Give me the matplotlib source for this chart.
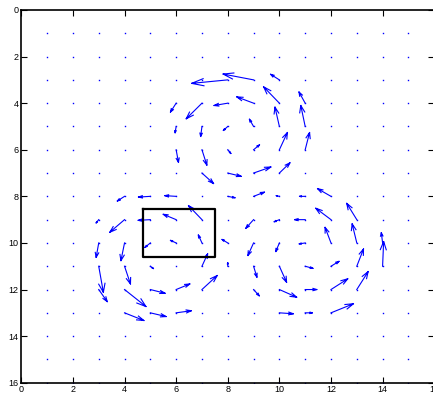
import numpy as np
import matplotlib
matplotlib.use("Agg")
import matplotlib.pyplot as plt

# grid of sample points (quiver base points)
grid_x = list(range(1, 17))
grid_y = list(range(1, 17))

# non-zero vectors: base point and displacement
arrow_x = [8, 9, 10,
           6, 7, 8, 9, 10, 11,
           6, 7, 8, 9, 10, 11,
           6, 7, 8, 9, 10, 11,
           7, 8, 9, 10,
           4, 5, 6, 8, 9, 10, 11, 12,
           3, 4, 5, 6, 7, 9, 10, 11, 12, 13,
           3, 4, 5, 6, 7, 8, 9, 10, 11, 12, 13, 14,
           3, 4, 5, 7, 8, 9, 10, 11, 12, 13, 14,
           3, 4, 5, 6, 7, 9, 10, 11, 12, 13,
           4, 5, 6, 10, 11, 12]
arrow_y = [3, 3, 3,
           4, 4, 4, 4, 4, 4,
           5, 5, 5, 5, 5, 5,
           6, 6, 6, 6, 6, 6,
           7, 7, 7, 7,
           8, 8, 8, 8, 8, 8, 8, 8,
           9, 9, 9, 9, 9, 9, 9, 9, 9, 9,
           10, 10, 10, 10, 10, 10, 10, 10, 10, 10, 10, 10,
           11, 11, 11, 11, 11, 11, 11, 11, 11, 11, 11,
           12, 12, 12, 12, 12, 12, 12, 12, 12, 12,
           13, 13, 13, 13, 13, 13]
arrow_u = [-1.40, -1.18, -0.34,
           -0.22, -0.61, -0.53, -0.65, -0.61, -0.24,
           -0.04, -0.05, -0.17, -0.16, -0.17, -0.17,
           0.09, 0.19, 0.12, 0.23, 0.31, 0.17,
           0.45, 0.52, 0.67, 0.41,
           -0.28, -0.46, -0.44, 0.28, 0.42, -0.12, -0.22, -0.52,
           -0.10, -0.57, -0.47, -0.50, -0.52, -0.30, -0.20, -0.41, -0.59, -0.39,
           -0.10, -0.14, -0.21, -0.22, -0.14, -0.22, -0.22, -0.14, -0.23, -0.23, -0.18, -0.05,
           0.18, 0.23, 0.12, 0.22, 0.00, 0.13, 0.28, 0.30, 0.31, 0.26, 0.04,
           0.33, 0.83, 0.57, 0.53, 0.59, 0.22, 0.67, 0.45, 0.65, 0.44,
           0.75, 0.61, 0.59, 0.54, 0.28, 0.87]
arrow_v = [0.15, -0.25, -0.24,
           0.38, 0.67, 0.10, -0.27, -0.70, -0.48,
           0.27, 0.43, 0.17, -0.31, -0.83, -0.90,
           0.54, 0.66, 0.16, -0.21, -0.74, -0.74,
           0.45, 0.14, -0.26, -0.44,
           0.20, 0.03, -0.03, 0.06, -0.18, -0.03, 0.00, -0.33,
           0.14, 0.54, 0.03, -0.23, -0.60, 0.37, 0.09, 0.00, -0.49, -0.70,
           0.62, 0.76, 0.19, -0.11, -0.34, -0.15, 0.54, 0.37, 0.04, -0.67, -0.82, -0.44,
           1.12, 0.76, 0.10, -0.53, -0.15, 0.47, 0.69, 0.09, -0.21, -0.74, -1.06,
           0.52, 0.73, 0.16, -0.24, -0.60, 0.27, 0.33, 0.00, -0.46, -0.77,
           0.33, 0.16, -0.09, 0.04, 0.00, -0.39]

# highlighted region
box_x = [4.7, 7.5]
box_y = [8.55, 10.6]


def arrow_lines(x, y, u, v, alpha=0.33, beta=0.33):
    """MATLAB-style open arrows: shaft plus two barbs, NaN separated."""
    x, y, u, v = map(np.asarray, (x, y, u, v))
    xe, ye = x + u, y + v
    nan = np.full_like(x, np.nan, dtype=float)
    shaft_x = np.column_stack([x, xe, nan]).ravel()
    shaft_y = np.column_stack([y, ye, nan]).ravel()
    hx = np.column_stack([xe - alpha * (u + beta * v), xe,
                          xe - alpha * (u - beta * v), nan]).ravel()
    hy = np.column_stack([ye - alpha * (v - beta * u), ye,
                          ye - alpha * (v + beta * u), nan]).ravel()
    return np.concatenate([shaft_x, hx]), np.concatenate([shaft_y, hy])


fig = plt.figure(figsize=(4.33, 3.98), dpi=100)
ax = fig.add_axes([0.0492, 0.0384, 0.9536, 0.9365])

gx, gy = np.meshgrid(grid_x, grid_y)
ax.plot(gx.ravel(), gy.ravel(), linestyle='none', marker='s',
        markersize=1.0, color='blue', markeredgewidth=0)

lx, ly = arrow_lines(arrow_x, arrow_y, arrow_u, arrow_v)
ax.plot(lx, ly, color='blue', linewidth=0.8)

ax.plot([box_x[0], box_x[1], box_x[1], box_x[0], box_x[0]],
        [box_y[0], box_y[0], box_y[1], box_y[1], box_y[0]],
        color='black', linewidth=1.6)

ax.set_xlim(0, 16)
ax.set_ylim(16, 0)
ax.set_xticks(range(0, 17, 2))
ax.set_yticks(range(0, 17, 2))
ax.tick_params(direction='in', length=4, width=0.8, labelsize=6.5,
               top=True, right=True, pad=2)
for lab in ax.get_xticklabels() + ax.get_yticklabels():
    lab.set_family(['Liberation Sans', 'DejaVu Sans'])
for s in ax.spines.values():
    s.set_linewidth(1.2)

fig.savefig('out.png', dpi=100)
